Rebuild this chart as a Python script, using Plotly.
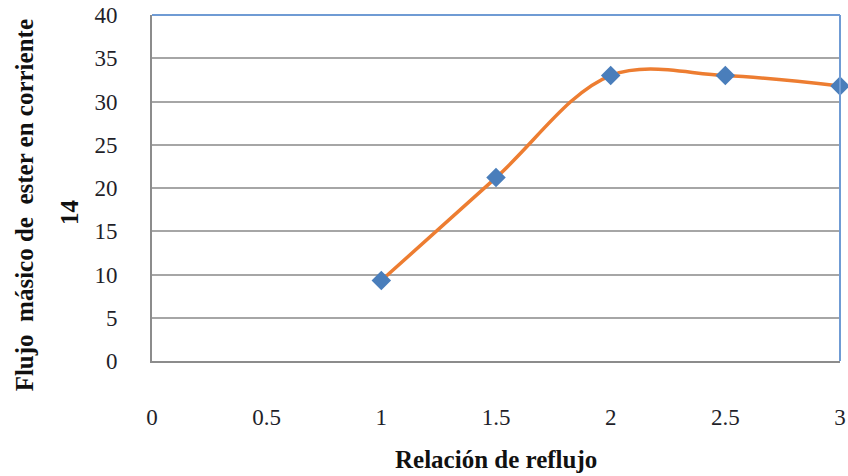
import plotly.graph_objects as go

reflux_ratio = [1, 1.5, 2, 2.5, 3]
ester_flow = [9.3, 21.2, 33.0, 33.0, 31.8]

x_title = "Relación de reflujo"
y_title_line1 = "Flujo  másico de  ester en corriente"
y_title_line2 = "14"

serif = "Liberation Serif, Times New Roman, serif"
tick_color = "#1f1f2a"

fig = go.Figure()
fig.add_trace(go.Scatter(
    x=reflux_ratio, y=ester_flow,
    mode="lines+markers",
    line=dict(color="#ed7d31", width=3.5, shape="spline", smoothing=1),
    marker=dict(symbol="diamond", size=15, color="#4a7ebb"),
    cliponaxis=False,
    showlegend=False,
))

fig.update_layout(
    width=848, height=476,
    margin=dict(l=152, r=8, t=15, b=115, autoexpand=False),
    paper_bgcolor="white", plot_bgcolor="white",
    font=dict(family=serif, color=tick_color),
    xaxis=dict(
        range=[0, 3], dtick=0.5, tick0=0,
        showgrid=False, zeroline=False,
        showline=True, linecolor="#8c8c8c", linewidth=2,
        ticks="", ticklabelstandoff=34, automargin=False,
        tickfont=dict(family=serif, size=23, color=tick_color),
    ),
    yaxis=dict(
        range=[0, 40], dtick=5, tick0=0,
        showgrid=True, gridcolor="#a6a6a6", gridwidth=1.5,
        zeroline=False,
        showline=True, linecolor="#8c8c8c", linewidth=2,
        ticks="", ticklabelstandoff=28, automargin=False,
        tickfont=dict(family=serif, size=23, color=tick_color),
    ),
    shapes=[
        dict(type="line", xref="paper", yref="paper", x0=0, x1=1, y0=1, y1=1,
             line=dict(color="#6f9bd4", width=2)),
        dict(type="line", xref="paper", yref="paper", x0=1, x1=1, y0=0, y1=1,
             line=dict(color="#6f9bd4", width=2)),
    ],
    annotations=[
        dict(text=x_title, xref="paper", yref="paper", x=0.5, y=-0.285,
             showarrow=False, xanchor="center", yanchor="middle",
             font=dict(family=serif, size=25, color="#111111", weight="bold")),
        dict(text=y_title_line1, xref="paper", yref="paper", x=-0.184, y=0.451,
             showarrow=False, textangle=-90, xanchor="center", yanchor="middle",
             font=dict(family=serif, size=25, color="#111111", weight="bold")),
        dict(text=y_title_line2, xref="paper", yref="paper", x=-0.119, y=0.431,
             showarrow=False, textangle=-90, xanchor="center", yanchor="middle",
             font=dict(family=serif, size=25, color="#111111", weight="bold")),
    ],
)

fig.write_html(
    "out.html",
    config={"displayModeBar": False},
    post_script="document.body.style.margin='0';document.body.style.overflow='hidden';",
)
